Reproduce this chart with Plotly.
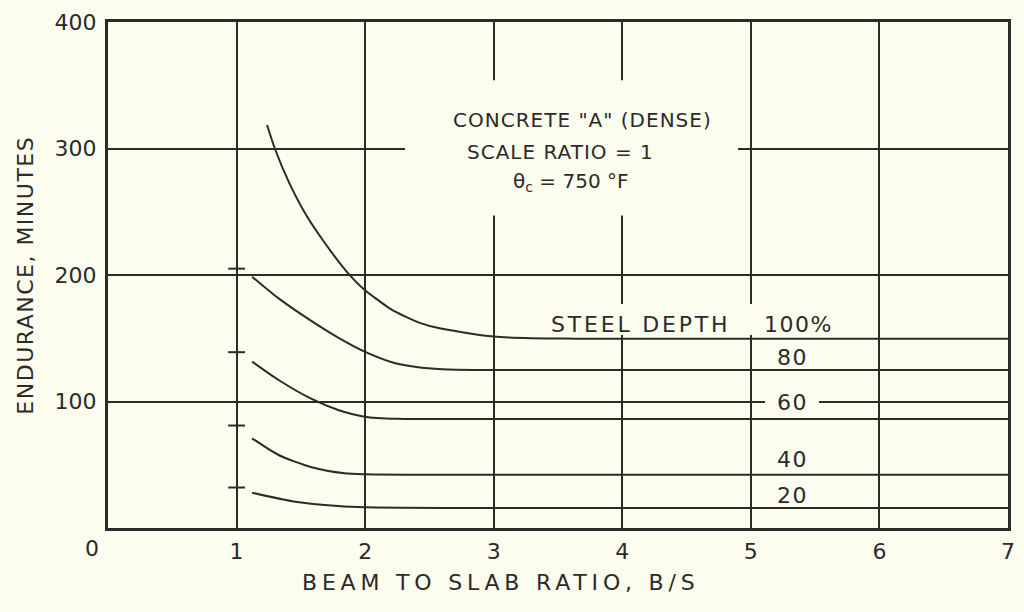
import plotly.graph_objects as go

# curvas de resistência ao fogo (endurance) por profundidade do aço
x_100 = [1.237, 1.302, 1.405, 1.533, 1.688, 1.868, 1.996, 2.10, 2.20, 2.305, 2.43, 2.562, 3.00, 3.64, 7.00]
y_100 = [318.6, 298.8, 273.8, 248.8, 225.1, 201.3, 188.1, 180.2, 173.0, 167.5, 162.0, 158.3, 151.3, 149.6, 149.6]

x_80 = [1.121, 1.327, 1.584, 1.79, 1.996, 2.228, 2.40, 2.60, 2.90, 7.00]
y_80 = [198.7, 181.5, 163.5, 150.5, 139.4, 130.4, 127.2, 125.5, 124.9, 124.9]

x_60 = [1.121, 1.327, 1.584, 1.79, 1.996, 2.25, 2.87, 7.00]
y_60 = [131.5, 117.0, 102.0, 93.3, 88.0, 86.3, 86.2, 86.2]

x_40 = [1.121, 1.327, 1.584, 1.84, 2.00, 2.60, 7.00]
y_40 = [70.9, 57.7, 48.0, 43.2, 42.4, 42.0, 42.0]

x_20 = [1.121, 1.456, 1.79, 2.00, 2.60, 7.00]
y_20 = [27.9, 20.8, 17.4, 16.4, 15.9, 15.8]

series = [(x_100, y_100), (x_80, y_80), (x_60, y_60), (x_40, y_40), (x_20, y_20)]

# marcas sobre a linha B/S = 1
marcas_y = [205, 139, 81, 32]

depth_labels = ["80", "60", "40", "20"]
depth_label_y = [135, 99, 54, 26]

x_ticks = [1, 2, 3, 4, 5, 6, 7]
y_ticks = [100, 200, 300, 400]

INK = "#2b2b28"
PAPER = "#fcfcef"
FONT = "DejaVu Sans"


def espaco(s, px):
    return f'<span style="letter-spacing:{px}px">{s}</span>'


fig = go.Figure()

for xs, ys in series:
    fig.add_trace(go.Scatter(
        x=xs, y=ys, mode="lines", line=dict(color=INK, width=2, shape="spline", smoothing=0.7),
        hoverinfo="skip", showlegend=False
    ))

fig.add_trace(go.Scatter(
    x=[1] * len(marcas_y), y=marcas_y, mode="markers",
    marker=dict(symbol="line-ew", size=12, line=dict(color=INK, width=2)),
    hoverinfo="skip", showlegend=False
))

# áreas "apagadas" da grade atrás dos textos
blank = dict(type="rect", xref="x", yref="y", fillcolor=PAPER, line_width=0, layer="above")
fig.add_shape(x0=2.31, x1=4.90, y0=247, y1=354, **blank)
fig.add_shape(x0=3.80, x1=5.30, y0=152.5, y1=177, **blank)
fig.add_shape(x0=5.11, x1=5.53, y0=94, y1=106, **blank)

txt = dict(showarrow=False, font=dict(family=FONT, size=20, color=INK), xref="x", yref="y")
fig.add_annotation(x=3.69, y=322.5, text=espaco('CONCRETE "A" (DENSE)', 1), **txt)
fig.add_annotation(x=3.52, y=297, text=espaco("SCALE RATIO = 1", 1), **txt)
fig.add_annotation(x=3.60, y=273.5, text="θ<sub>c</sub> = 750 °F", **txt)

big = dict(showarrow=False, font=dict(family=FONT, size=22, color=INK), xref="x", yref="y")
fig.add_annotation(x=4.14, y=160.5, text=espaco("STEEL DEPTH", 2.8), **big)
fig.add_annotation(x=5.37, y=160.5, text=espaco("100%", 1.5), **big)
for lab, ly in zip(depth_labels, depth_label_y):
    fig.add_annotation(x=5.32, y=ly, text=espaco(lab, 1.5), **big)

# rótulo "0" deslocado à esquerda, e títulos dos eixos
fig.add_annotation(x=0, y=0, text="0", xshift=-16, yshift=-20, **big)
fig.add_annotation(x=0.4366, y=-0.107, xref="paper", yref="paper", xanchor="center", yanchor="middle",
                   text=espaco("BEAM TO SLAB RATIO, B/S", 4.8),
                   showarrow=False, font=dict(family=FONT, size=22, color=INK))
fig.add_annotation(x=-0.0926, y=0.5, xref="paper", yref="paper", xanchor="center", yanchor="middle",
                   text=espaco("ENDURANCE, MINUTES", 1.5),
                   textangle=-90, showarrow=False, font=dict(family=FONT, size=22, color=INK))

fig.update_layout(
    width=1024, height=612,
    margin=dict(l=108, r=9, t=22, b=84),
    paper_bgcolor=PAPER, plot_bgcolor=PAPER,
    font=dict(family=FONT, size=22, color=INK),
    xaxis=dict(range=[0, 7], tickvals=x_ticks, showgrid=True, gridcolor=INK, gridwidth=1.5,
               showline=True, linecolor=INK, linewidth=3, mirror=True, zeroline=False,
               ticks="", ticklabelstandoff=2, fixedrange=True),
    yaxis=dict(range=[0, 400], tickvals=y_ticks, showgrid=True, gridcolor=INK, gridwidth=1.5,
               showline=True, linecolor=INK, linewidth=3, mirror=True, zeroline=False,
               ticks="", ticklabelstandoff=4, fixedrange=True),
)

fig.write_html("out.html", config={"displayModeBar": False},
               post_script="document.body.style.margin='0';")
